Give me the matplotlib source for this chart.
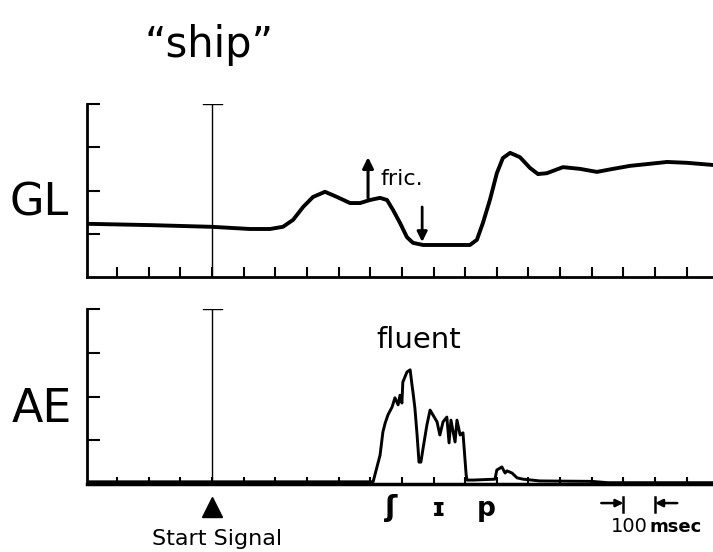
import numpy as np
import matplotlib
matplotlib.use("Agg")
import matplotlib.pyplot as plt
import matplotlib.transforms as mtrans

# time in msec relative to the start signal, amplitudes in tick units
gl_t = [-395, -196, 0, 120, 183, 224, 256, 288, 319, 357, 395, 436, 468, 499,
        531, 553, 572, 594, 616, 635, 667, 815, 837, 856, 878, 900, 919, 942,
        973, 1005, 1030, 1058, 1109, 1163, 1216, 1267, 1321, 1374, 1438, 1501, 1583]
gl_v = [1.23, 1.20, 1.16, 1.11, 1.11, 1.16, 1.32, 1.62, 1.85, 1.97, 1.85, 1.71,
        1.71, 1.78, 1.83, 1.78, 1.55, 1.25, 0.92, 0.79, 0.74, 0.74, 0.86, 1.25,
        1.78, 2.40, 2.75, 2.87, 2.77, 2.52, 2.38, 2.40, 2.54, 2.50, 2.43, 2.50,
        2.57, 2.61, 2.66, 2.64, 2.59]

ae_t = [-395, 0, 300, 509, 531, 540, 547, 556, 569, 578, 588, 594, 600, 603,
        616, 626, 632, 635, 641, 648, 654, 660, 667, 679, 689, 698, 711, 720,
        730, 742, 749, 755, 768, 774, 784, 793, 803, 806, 825, 894, 900, 916,
        926, 932, 948, 964, 983, 1036, 1200, 1250, 1583]
ae_v = [0.05, 0.05, 0.05, 0.05, 0.66, 1.19, 1.39, 1.58, 1.76, 1.97, 1.81, 2.03,
        1.85, 2.33, 2.56, 2.61, 2.26, 2.10, 1.74, 1.12, 0.50, 0.50, 0.82, 1.35,
        1.69, 1.58, 1.42, 1.12, 1.42, 1.53, 0.94, 1.46, 0.96, 1.46, 1.12, 1.17,
        0.21, 0.09, 0.09, 0.11, 0.32, 0.39, 0.25, 0.30, 0.25, 0.14, 0.11, 0.07,
        0.06, 0.03, 0.03]

xticks = list(range(-300, 1501, 100))
yticks = [1, 2, 3, 4]
xlim = (-395, 1583)

fig = plt.figure(figsize=(7.13, 5.52), dpi=100)
ax1 = fig.add_axes([87 / 713, 1 - 277 / 552, 1 - 87 / 713, 173 / 552])
ax2 = fig.add_axes([87 / 713, 1 - 484 / 552, 1 - 87 / 713, 175 / 552])

for ax in (ax1, ax2):
    ax.set_xlim(*xlim)
    ax.set_ylim(0, 4)
    ax.spines['top'].set_visible(False)
    ax.spines['right'].set_visible(False)
    ax.spines['left'].set_linewidth(2)
    ax.set_xticks(xticks)
    ax.set_yticks(yticks)
    ax.set_xticklabels([])
    ax.set_yticklabels([])
    ax.tick_params(axis='y', direction='in', length=9, width=1.5)
    # start signal line with a cap on top
    ax.plot([0, 0], [0, 4], color='black', lw=1)
    ax.plot([-30, 30], [4, 4], color='black', lw=1)

ax1.spines['bottom'].set_linewidth(2)
ax1.tick_params(axis='x', direction='in', length=7, width=1.5)
ax2.spines['bottom'].set_linewidth(2.5)
ax2.tick_params(axis='x', direction='in', length=5, width=1.5)

ax1.plot(gl_t, gl_v, color='black', lw=2.8, solid_joinstyle='round')
ax2.plot(ae_t, ae_v, color='black', lw=2.1, solid_joinstyle='round')

# annotations on GL
ax1.annotate('', xy=(493, 2.77), xytext=(493, 1.83),
             arrowprops=dict(arrowstyle='-|>', color='black', lw=2.2,
                             mutation_scale=16, shrinkA=0, shrinkB=0))
ax1.annotate('', xy=(664, 0.81), xytext=(664, 1.62),
             arrowprops=dict(arrowstyle='-|>', color='black', lw=2.0,
                             mutation_scale=15, shrinkA=0, shrinkB=0))
ax1.text(531, 2.13, 'fric.', fontsize=16, va='baseline', ha='left')

ax2.text(654, 3.11, 'fluent', fontsize=21, va='baseline', ha='center')

# labels below the time axis
tr = mtrans.blended_transform_factory(ax2.transData, ax2.transAxes)
ax2.plot([0], [-0.131], marker='^', color='black', markersize=15,
         transform=tr, clip_on=False)
ax2.text(16, -0.349, 'Start Signal', fontsize=16, ha='center', va='baseline',
         transform=tr)
for x, s, fs in [(566, 'ʃ', 21), (717, 'ɪ', 18), (866, 'p', 19)]:
    ax2.text(x, -0.18, s, fontsize=fs, fontweight='bold', ha='center',
             va='baseline', transform=tr)

for xb, x0 in [(1300, 1230), (1400, 1470)]:
    ax2.annotate('', xy=(xb, -0.109), xytext=(x0, -0.109), xycoords=tr,
                 textcoords=tr,
                 arrowprops=dict(arrowstyle='-|>', color='black', lw=1.8,
                                 mutation_scale=11, shrinkA=0, shrinkB=0))
    ax2.plot([xb, xb], [-0.074, -0.16], color='black', lw=1.8,
             transform=tr, clip_on=False)
ax2.text(1378, -0.274, '100', fontsize=14, ha='right', va='baseline',
         transform=tr)
ax2.text(1382, -0.274, 'msec', fontsize=13, fontweight='bold', ha='left',
         va='baseline', transform=tr)

fig.text(209 / 713, 1 - 57 / 552, '\u201cship\u201d', fontsize=30,
         ha='center', va='baseline')
fig.text(10 / 713, 1 - 215 / 552, 'GL', fontsize=32, ha='left', va='baseline')
fig.text(12 / 713, 1 - 422 / 552, 'AE', fontsize=33, ha='left', va='baseline')

fig.savefig('out.png', dpi=100)
